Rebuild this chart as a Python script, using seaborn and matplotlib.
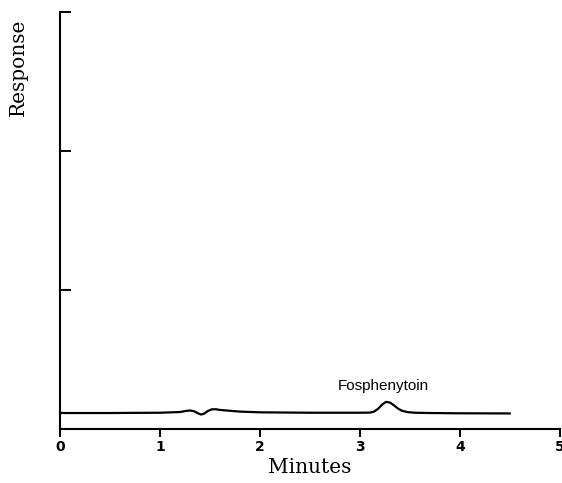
import matplotlib
matplotlib.use("Agg")
import matplotlib.pyplot as plt
import seaborn as sns
import pandas as pd

# Chromatogram trace (time in minutes, response in arbitrary units)
time_min = [0.0, 0.5, 1.0, 1.2, 1.26, 1.3, 1.34, 1.38, 1.41, 1.44, 1.48, 1.52, 1.56,
            1.6, 1.8, 2.0, 2.5, 3.0, 3.1, 3.14, 3.18, 3.22, 3.26, 3.3, 3.34, 3.38,
            3.42, 3.48, 3.55, 3.7, 4.0, 4.5]
response = [0.115, 0.115, 0.117, 0.122, 0.130, 0.133, 0.128, 0.113, 0.104, 0.110,
            0.130, 0.142, 0.142, 0.137, 0.125, 0.120, 0.117, 0.117, 0.118, 0.125,
            0.145, 0.175, 0.195, 0.190, 0.170, 0.147, 0.131, 0.121, 0.117, 0.115,
            0.113, 0.112]
x_ticks = [0, 1, 2, 3, 4, 5]
y_ticks = [0, 1, 2, 3]
peak_label = "Fosphenytoin"
peak_time = 3.23
peak_label_y = 0.26

df = pd.DataFrame({"Minutes": time_min, "Response": response})

sns.set_style("white")
plt.rcParams["text.color"] = "black"
plt.rcParams["axes.labelcolor"] = "black"
plt.rcParams["xtick.color"] = "black"
plt.rcParams["ytick.color"] = "black"

fig = plt.figure(figsize=(5.62, 4.83), dpi=100)
ax = fig.add_axes([60 / 562, (483 - 429) / 483, 500 / 562, (429 - 12) / 483])

sns.lineplot(data=df, x="Minutes", y="Response", ax=ax, color="black",
             linewidth=1.6, sort=False)

ax.set_xlim(0, 5)
ax.set_ylim(0, 3)
ax.set_xticks(x_ticks)
ax.set_xticklabels([str(t) for t in x_ticks], fontweight="bold",
                   fontsize=10, family="DejaVu Sans", color="black")
ax.set_yticks(y_ticks)
ax.set_yticklabels([])
ax.tick_params(axis="x", bottom=True, direction="out", length=6, width=1.4,
               color="black", pad=2)
ax.tick_params(axis="y", left=True, direction="in", length=8, width=1.4,
               color="black")

for s in ["top", "right"]:
    ax.spines[s].set_visible(False)
for s in ["left", "bottom"]:
    ax.spines[s].set_color("black")
    ax.spines[s].set_linewidth(1.5)

ax.set_xlabel("Minutes", family="DejaVu Serif", fontsize=14.5, labelpad=3,
              color="black")
ax.set_ylabel("Response", family="DejaVu Serif", fontsize=14.5, color="black")
ax.yaxis.set_label_coords(-0.064, 0.868)

ax.text(peak_time, peak_label_y, peak_label, ha="center", va="bottom",
        fontsize=11, family="Liberation Sans", color="black")

fig.savefig("out.png", dpi=100)
